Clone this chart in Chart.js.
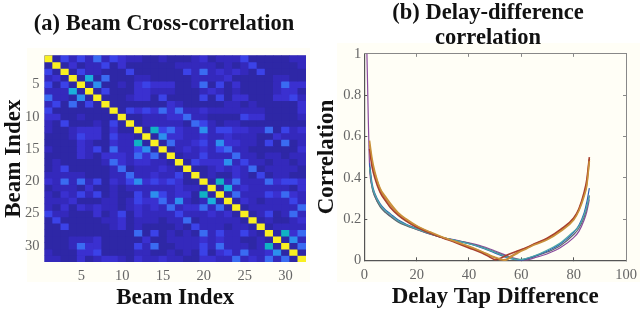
<!DOCTYPE html>
<html>
<head>
<meta charset="utf-8">
<script src="https://cdn.jsdelivr.net/npm/chart.js@4"></script>
<style>
  html, body { margin: 0; background: #fff; overflow: hidden; width: 640px; height: 310px; }
  .panel { position: absolute; background: #FFFEF6; }
  .box { position: absolute; top: 0; height: 310px; }
  canvas { filter: blur(0.45px); }
</style>
</head>
<body>
<div class="panel" style="left:27px;top:48px;width:283px;height:234px"></div>
<div class="panel" style="left:337px;top:43px;width:303px;height:239px"></div>
<div class="box" style="left:0;width:328px"><canvas id="ch-beam"></canvas></div>
<div class="box" style="left:316px;width:344px"><canvas id="ch-delay"></canvas></div>
<script>
/* (a) beam cross-correlation heatmap, (b) delay-difference curves. */

// Heatmap levels, upper triangle only: each row starts on the diagonal.
const beamUpper = [
  [9,0,3,1,3,1,4,1,3,2,1,1,0,0,1,0,0,0,1,2,0,1,1,1,3,0,0,0,0,0,1,1],
  [9,0,2,0,1,1,3,0,2,0,0,0,0,0,0,1,1,1,1,1,0,1,0,1,3,0,0,0,0,0,1],
  [9,0,3,1,1,0,0,0,3,0,0,0,0,0,0,3,1,4,1,2,1,2,1,0,3,0,0,0,0,0],
  [9,0,6,0,4,0,0,0,1,1,0,0,0,0,0,1,1,1,1,2,0,0,0,0,0,1,1,0,0],
  [9,0,5,0,0,1,0,2,3,2,2,2,0,0,1,4,0,3,0,2,0,0,0,0,1,4,2,2],
  [9,0,3,0,0,0,2,2,1,1,1,0,0,0,1,2,1,0,1,0,0,0,0,1,2,2,0],
  [9,0,0,0,1,2,2,0,3,0,0,0,0,3,0,3,0,2,2,0,0,0,2,2,3,1],
  [9,0,0,0,0,0,0,0,2,1,0,0,0,0,0,1,1,0,1,0,0,0,0,0,2],
  [9,0,3,2,3,2,4,2,4,1,1,2,1,1,1,1,1,1,1,0,0,0,0,2],
  [9,0,0,1,1,1,2,2,4,1,1,0,0,0,0,3,2,2,0,0,0,0,1],
  [9,0,1,1,1,1,1,0,4,3,1,0,1,1,0,0,0,0,0,0,0,0],
  [9,0,7,3,4,2,1,1,5,1,3,3,2,2,1,1,4,0,3,1,2],
  [9,0,5,2,2,1,1,2,1,1,2,1,1,1,0,0,2,1,1,1],
  [9,0,4,1,1,2,3,1,5,2,2,1,1,0,3,0,4,0,1],
  [9,0,1,2,1,2,1,3,4,1,1,0,0,0,0,0,0,2],
  [9,0,1,1,3,1,1,1,4,1,1,0,1,1,0,1,1],
  [9,0,3,2,2,2,5,1,3,1,1,0,1,1,0,1],
  [9,0,0,1,2,1,2,1,4,0,1,1,1,1,0],
  [9,0,1,0,0,2,1,0,3,0,1,1,0,0],
  [9,0,7,1,4,1,1,1,4,2,3,3,2],
  [9,0,6,1,2,1,1,1,1,1,0,2],
  [9,0,4,1,1,1,3,2,4,2,1],
  [9,0,2,1,0,1,1,1,3,1],
  [9,0,1,1,1,1,1,1,4],
  [9,0,1,3,0,1,4,1],
  [9,0,1,0,0,1,2],
  [9,0,1,1,1,1],
  [9,0,7,2,4],
  [9,0,5,1],
  [9,0,4],
  [9,0],
  [9],
];
const beamTicks = [5, 10, 15, 20, 25, 30];
const levelColors = ['#2E27A6', '#3429BC', '#3A30D0', '#3B42E8', '#3A6BF2', '#2C8FEE', '#1AB0DC', '#10B2C4', '#BFD830', '#F9F021'];

// Delay tap differences the curves were read at
const tapX = [1,2,3,4,6,8,10,13,16,20,25,30,35,40,45,48,50,52,54,56,58,60,62,65,70,75,80,82,84,85,86];
const lineOrange = [null,.56,.47,.42,.345,.30,.265,.225,.195,.165,.135,.11,.09,.065,.04,.022,.012,.003,.004,.02,.035,.05,.06,.078,.105,.145,.20,.245,.32,.37,.49];
const lineGold   = [null,.58,.49,.43,.35,.31,.275,.23,.2,.168,.138,.112,.09,.068,.042,.025,.015,.006,0,.015,.03,.045,.056,.075,.1,.14,.195,.24,.31,.36,.48];
const lineRed    = [null,.54,.45,.40,.33,.29,.255,.218,.19,.16,.132,.108,.085,.06,.035,.015,.003,.01,.022,.033,.043,.052,.062,.08,.108,.15,.205,.25,.33,.39,.5];
const lineBlue   = [null,.47,.37,.325,.275,.245,.225,.195,.175,.155,.13,.11,.095,.08,.06,.045,.035,.025,.015,.008,.003,.002,.008,.02,.045,.08,.135,.17,.23,.28,.35];
const lineTeal   = [null,.45,.36,.32,.27,.24,.22,.19,.172,.152,.13,.11,.095,.08,.062,.048,.038,.028,.018,.01,.004,.004,.01,.022,.05,.085,.14,.165,.22,.26,.31];
const lineGray   = [null,.45,.35,.31,.26,.232,.212,.185,.168,.15,.128,.11,.096,.082,.064,.05,.04,.03,.02,.012,.006,.003,.006,.018,.04,.072,.125,.155,.21,.25,.315];
const linePurple = [1,.46,.355,.31,.265,.235,.215,.188,.17,.15,.128,.11,.098,.084,.068,.055,.045,.035,.025,.015,.008,.002,.002,.012,.032,.062,.11,.14,.195,.235,.295];

const SERIF = "'Liberation Serif', serif";
const INK = '#111';
const AXIS = '#555';
const TICK = '#666';

Chart.defaults.animation = false;
Chart.defaults.responsive = true;
Chart.defaults.maintainAspectRatio = false;

const titleOpts = (text, top, bottom) => ({
  display: true, text, color: INK,
  font: { family: SERIF, size: 22.5, weight: 'bold', lineHeight: 1.13 },
  padding: { top, bottom },
});
const axisTitle = (text, padding) => ({
  display: true, text, color: INK, padding,
  font: { family: SERIF, size: 23, weight: 'bold', lineHeight: 1 },
});
const tickFont = { family: SERIF, size: 14.5 };

// a) mirror the read triangle into the full matrix
const beamIdx = beamUpper.map((_, i) => i + 1);
const level = (r, c) => (c >= r ? beamUpper[r][c - r] : beamUpper[c][r - c]);

new Chart(document.getElementById('ch-beam'), {
  type: 'bar',
  data: {
    labels: beamIdx,
    datasets: beamIdx.map((row, r) => ({
      data: beamIdx.map(() => [row - 0.5, row + 0.5]),
      backgroundColor: beamIdx.map((_, c) => levelColors[level(r, c)]),
      borderWidth: 0,
      barPercentage: 1,
      categoryPercentage: 1,
      grouped: false,
    })),
  },
  options: {
    plugins: {
      legend: { display: false },
      tooltip: { enabled: false },
      title: titleOpts('(a) Beam Cross-correlation', 11, 19),
    },
    scales: {
      x: {
        grid: { display: false, drawTicks: false }, border: { display: false },
        ticks: {
          color: TICK, font: tickFont, padding: 5, autoSkip: false, maxRotation: 0,
          callback: (v, i) => (beamTicks.includes(i + 1) ? String(i + 1) : ''),
        },
        title: axisTitle('Beam Index', { top: 0, bottom: 0 }),
        afterFit: s => { s.height = 48; },
      },
      y: {
        reverse: true, min: 0.5, max: 32.5,
        grid: { display: false, drawTicks: false }, border: { display: false },
        afterBuildTicks: s => { s.ticks = beamTicks.map(value => ({ value })); },
        ticks: { color: TICK, font: tickFont, padding: 5 },
        title: axisTitle('Beam Index', { top: 3, bottom: 0 }),
        afterFit: s => { s.width = 44.5; },
      },
      yEdge: {
        position: 'right', min: 0, max: 1,
        grid: { display: false }, border: { display: false },
        ticks: { display: false },
        afterFit: s => { s.width = 22; },
      },
    },
  },
  plugins: [{
    id: 'backdrop',
    beforeDatasetsDraw(chart) {
      const { ctx, chartArea: a } = chart;
      ctx.save();
      ctx.fillStyle = levelColors[0];
      ctx.fillRect(a.left, a.top, a.width, a.height);
      ctx.restore();
    },
  }],
});

// b) the seven traced lines
const delayLine = (data, borderColor, borderWidth = 1.2) => ({
  data: tapX.map((x, i) => ({ x, y: data[i] })),
  borderColor, borderWidth, pointRadius: 0, cubicInterpolationMode: 'monotone', clip: false,
});
const edgeGrid = { tickLength: -3, drawOnChartArea: false, color: '#888' };

new Chart(document.getElementById('ch-delay'), {
  type: 'line',
  data: {
    datasets: [
      delayLine(lineGold, '#C9913A', 1.6),
      delayLine(lineRed, '#A8402E', 1.6),
      delayLine(lineOrange, '#C8803C', 1.6),
      delayLine(lineTeal, '#4FA8A8'),
      delayLine(lineBlue, '#2A5FB5'),
      delayLine(lineGray, '#5E6870'),
      delayLine(linePurple, '#8A4A9E'),
    ],
  },
  options: {
    plugins: {
      legend: { display: false },
      tooltip: { enabled: false },
      title: titleOpts(['(b) Delay-difference', 'correlation'], 0, 3),
    },
    scales: {
      x: {
        type: 'linear', min: 0, max: 100,
        grid: { tickLength: -3, drawOnChartArea: false, color: AXIS },
        border: { color: AXIS, width: 1.2 },
        ticks: { stepSize: 20, color: TICK, font: tickFont, padding: 9, maxRotation: 0 },
        title: axisTitle('Delay Tap Difference', { top: 0, bottom: 1 }),
        afterFit: s => { s.height = 49.7; },
      },
      y: {
        min: 0, max: 1,
        grid: { tickLength: -3, drawOnChartArea: false, color: AXIS },
        border: { color: AXIS, width: 1.2 },
        ticks: {
          stepSize: 0.2, color: TICK, font: tickFont, padding: 6,
          callback: v => String(+v.toFixed(1)),
        },
        title: axisTitle('Correlation', { top: 0, bottom: 0 }),
        afterFit: s => { s.width = 48.3; },
      },
      xTop: {
        type: 'linear', position: 'top', min: 0, max: 100,
        grid: edgeGrid, border: { color: '#888' },
        ticks: { stepSize: 20, display: false },
        afterFit: s => { s.height = 0; },
      },
      yRight: {
        position: 'right', min: 0, max: 1,
        grid: edgeGrid, border: { color: '#888' },
        ticks: { stepSize: 0.2, display: false },
        afterFit: s => { s.width = 34; },
      },
    },
  },
});
</script>
</body>
</html>
